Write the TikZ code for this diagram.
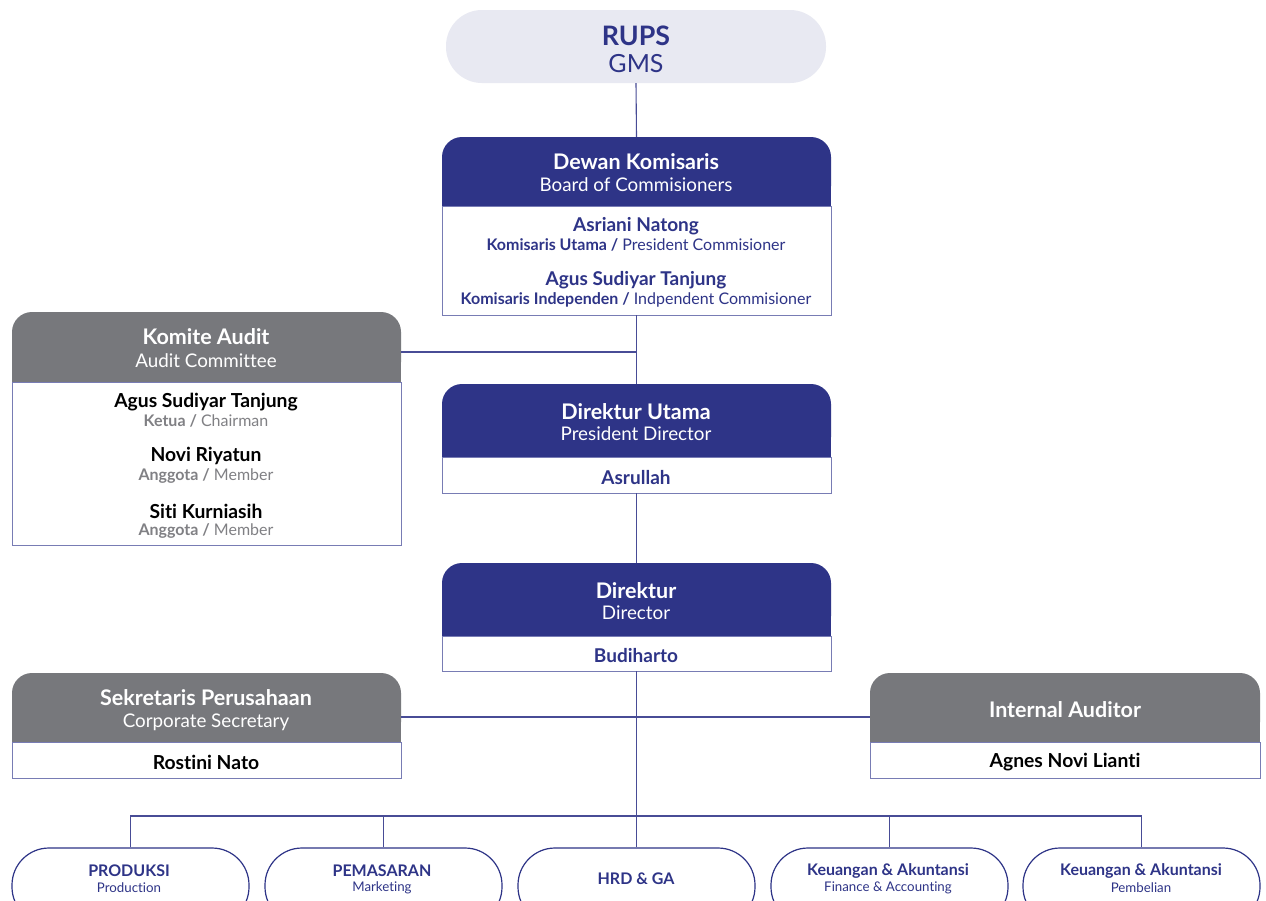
\documentclass[tikz,border=0pt]{standalone}
\usepackage{fontspec}
\setmainfont{Lato}[Ligatures=NoCommon]
\definecolor{navy}{RGB}{46,52,135}
\definecolor{linec}{RGB}{72,76,150}
\definecolor{bord}{RGB}{120,124,180}
\definecolor{hgray}{RGB}{119,120,124}
\definecolor{tgray}{RGB}{128,128,132}
\definecolor{rupsbg}{RGB}{232,233,242}
\begin{document}
\begin{tikzpicture}[x=1pt,y=-1pt,
  conn/.style={draw=linec,line width=1.1pt},
  hdrbox/.style={inner sep=0pt,rounded corners=20pt,minimum width=389pt},
  bodybox/.style={draw=bord,line width=0.9pt,fill=white,inner sep=0pt,minimum width=389pt},
  ttl/.style={text=white,font=\fontsize{21.5}{24}\selectfont\bfseries,inner sep=0pt},
  sub/.style={text=white,font=\fontsize{18.8}{22}\selectfont,inner sep=0pt},
  pname/.style={text=navy,font=\fontsize{19}{22}\selectfont\bfseries,inner sep=0pt},
  prole/.style={text=navy,font=\fontsize{16}{19}\selectfont,inner sep=0pt},
  gname/.style={text=black,font=\fontsize{19.3}{22}\selectfont\bfseries,inner sep=0pt},
  grole/.style={text=tgray,font=\fontsize{16}{19}\selectfont,inner sep=0pt},
  unit/.style={draw=navy,line width=1.2pt,fill=white,rounded corners=37pt,minimum width=237pt,minimum height=76pt,inner sep=0pt},
  utt/.style={text=navy,font=\fontsize{16}{19}\selectfont\bfseries,inner sep=0pt},
  usub/.style={text=navy,font=\fontsize{13.3}{16}\selectfont,inner sep=0pt}]
\useasboundingbox (0,0) rectangle (1266,900);
\clip (0,0) rectangle (1266,900);
\fill[white] (0,0) rectangle (1266,900);

% RUPS
\node[fill=rupsbg,rounded corners=36pt,minimum width=380pt,minimum height=73pt,inner sep=0pt] (rups) at (636,46.5) {};
\node[text=navy,font=\fontsize{26.8}{30}\selectfont\bfseries,inner sep=0pt] (rupsT) at (636,36) {RUPS};
\node[text=navy,font=\fontsize{25}{30}\selectfont,inner sep=0pt] (rupsS) at (636,63.5) {GMS};

% Dewan Komisaris
\node[hdrbox,fill=navy,minimum height=69pt] (dewanH) at (636.5,171.5) {};
\fill[navy] (dewanH.west) rectangle (dewanH.south east);
\node[bodybox,minimum height=109pt] (dewan) at (636.5,260.5) {};
\node[ttl] (dewanT) at (636,161.5) {Dewan Komisaris};
\node[sub] (dewanS) at (636,185) {Board of Commisioners};
\node[pname] (d1n) at (636,226) {Asriani Natong};
\node[prole] (d1r) at (636,245) {\textbf{Komisaris Utama /} President Commisioner};
\node[pname] (d2n) at (636,280) {Agus Sudiyar Tanjung};
\node[prole] (d2r) at (636,300) {\textbf{Komisaris Independen /} Indpendent Commisioner};

% Komite Audit
\node[hdrbox,fill=hgray,minimum height=70pt] (komH) at (206.5,347) {};
\fill[hgray] (komH.west) rectangle (komH.south east);
\node[bodybox,minimum height=163pt] (kom) at (206.5,463.5) {};
\node[ttl] (komT) at (206,336.5) {Komite Audit};
\node[sub] (komS) at (206,361) {Audit Committee};
\node[gname] (k1n) at (206,402) {Agus Sudiyar Tanjung};
\node[grole] (k1r) at (206,421) {\textbf{Ketua /} Chairman};
\node[gname] (k2n) at (206,456) {Novi Riyatun};
\node[grole] (k2r) at (206,476) {\textbf{Anggota /} Member};
\node[gname] (k3n) at (206,511) {Siti Kurniasih};
\node[grole] (k3r) at (206,531) {\textbf{Anggota /} Member};

% Direktur Utama
\node[hdrbox,fill=navy,minimum height=73pt] (dirutH) at (636.5,420.5) {};
\fill[navy] (dirutH.west) rectangle (dirutH.south east);
\node[bodybox,minimum height=36pt] (dirut) at (636.5,475) {};
\node[ttl] (dirutT) at (636,411.5) {Direktur Utama};
\node[sub] (dirutS) at (636,434) {President Director};
\node[pname] (dirutN) at (636,478) {Asrullah};

% Direktur
\node[hdrbox,fill=navy,minimum height=73pt] (dirH) at (636.5,599.5) {};
\fill[navy] (dirH.west) rectangle (dirH.south east);
\node[bodybox,minimum height=35pt] (dir) at (636.5,653.5) {};
\node[ttl] (dirT) at (636,590.5) {Direktur};
\node[sub] (dirS) at (636,613) {Director};
\node[pname] (dirN) at (636,656) {Budiharto};

% Sekretaris Perusahaan
\node[hdrbox,fill=hgray,minimum height=69pt] (sekH) at (206.5,707.5) {};
\fill[hgray] (sekH.west) rectangle (sekH.south east);
\node[bodybox,minimum height=36pt] (sek) at (206.5,760) {};
\node[ttl] (sekT) at (206,697.5) {Sekretaris Perusahaan};
\node[sub] (sekS) at (206,722) {Corporate Secretary};
\node[gname] (sekN) at (206,762) {Rostini Nato};

% Internal Auditor
\node[hdrbox,fill=hgray,minimum height=69pt,minimum width=390pt] (iaH) at (1065,707.5) {};
\fill[hgray] (iaH.west) rectangle (iaH.south east);
\node[bodybox,minimum height=36pt,minimum width=390pt] (ia) at (1065,760) {};
\node[ttl] (iaT) at (1065,709.5) {Internal Auditor};
\node[gname] (iaN) at (1065,762) {Agnes Novi Lianti};

% Units
\node[unit] (b1) at (130.5,886) {};
\node[unit] (b2) at (383.5,886) {};
\node[unit] (b3) at (636.5,886) {};
\node[unit] (b4) at (889.5,886) {};
\node[unit] (b5) at (1141.5,886) {};
\node[utt] at (129,870.5) {PRODUKSI};
\node[usub] at (129,887.5) {Production};
\node[utt] at (382,870.5) {PEMASARAN};
\node[usub] at (382,887.5) {Marketing};
\node[utt] at (636,878.5) {HRD \& GA};
\node[utt] at (888,870.5) {Keuangan \& Akuntansi};
\node[usub] at (888,887.5) {Finance \& Accounting};
\node[utt] at (1141,870.5) {Keuangan \& Akuntansi};
\node[usub] at (1141,887.5) {Pembelian};

% Connectors
\coordinate (j1) at (636,352);
\coordinate (j2) at (636,717);
\coordinate (bus) at (636,816);
\draw[conn] (rups.south) -- (dewanH.north);
\draw[conn] (dewan.south) -- (dirutH.north);
\draw[conn] (komH.east |- j1) -- (j1);
\draw[conn] (dirut.south) -- (dirH.north);
\draw[conn] (dir.south) -- (b3.north);
\draw[conn] (sekH.east |- j2) -- (iaH.west |- j2);
\draw[conn] (b1.north) |- (bus) -| (b5.north);
\draw[conn] (b2.north) -- (b2.north |- bus);
\draw[conn] (b4.north) -- (b4.north |- bus);
\end{tikzpicture}
\end{document}
